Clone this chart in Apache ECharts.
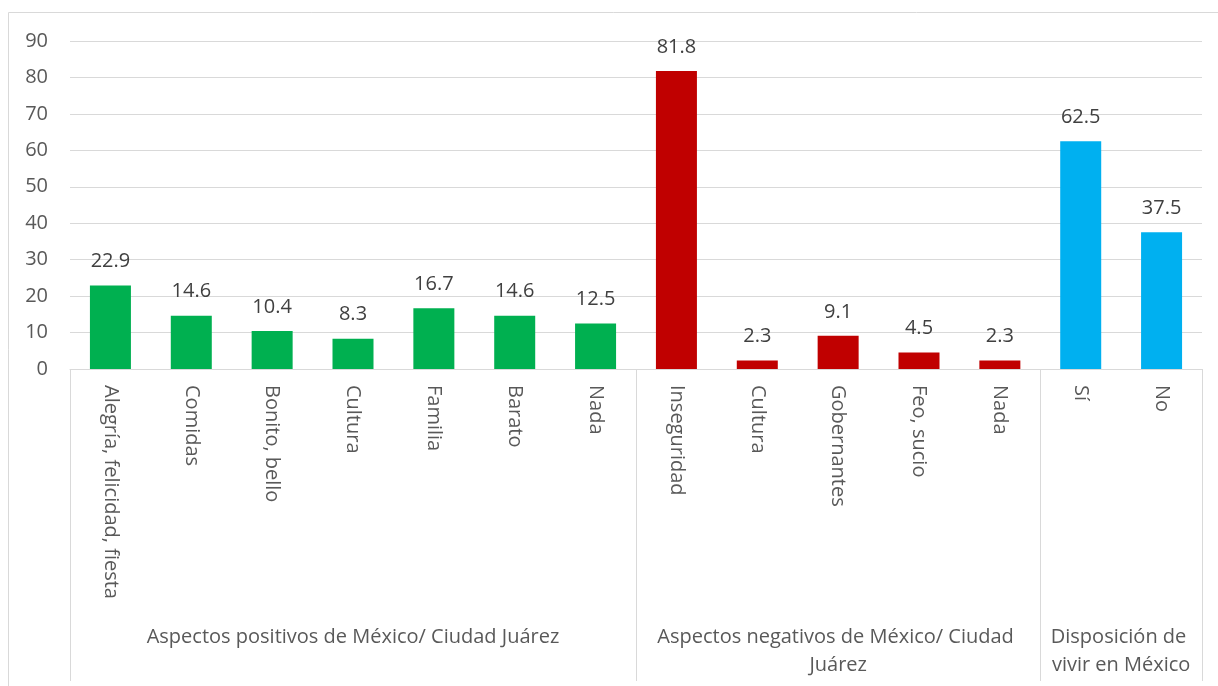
<!DOCTYPE html>
<html>
<head>
<meta charset="utf-8">
<script src="https://cdn.jsdelivr.net/npm/echarts@6/dist/echarts.min.js"></script>
<style>
  html, body { margin: 0; padding: 0; background: #fff; }
  #chart { width: 1218px; height: 686px; }
</style>
</head>
<body>
<div id="chart"></div>
<script>
const categories = [
    'Alegría, felicidad, fiesta', 'Comidas', 'Bonito, bello', 'Cultura', 'Familia', 'Barato', 'Nada',
    'Inseguridad', 'Cultura', 'Gobernantes', 'Feo, sucio', 'Nada',
    'Sí', 'No',
]
const values = [22.9, 14.6, 10.4, 8.3, 16.7, 14.6, 12.5, 81.8, 2.3, 9.1, 4.5, 2.3, 62.5, 37.5]
const groupNames = [
    'Aspectos positivos de México/ Ciudad Juárez',
    'Aspectos negativos de México/ Ciudad Juárez',
    'Disposición de vivir en México',
]
const groupSizes = [7, 5, 2]
const yTicks = [0, 90, 10] // min, max, interval

const groupColors = ['#00B050', '#C00000', '#00B0F0']
const font = '"Open Sans", sans-serif'
const fontSize = 20
const textColor = '#595959'
const lineColor = '#d9d9d9'

// which group each bar is in, and where the groups start/end on the axis
const groupOf = []
const bounds = [-0.5]
groupSizes.forEach((n, g) => {
    for (let i = 0; i < n; i++) groupOf.push(g)
    bounds.push(bounds[bounds.length - 1] + n)
})

const chart = echarts.init(document.getElementById('chart'))

const option = {
    animation: false,
    grid: { left: 70, right: 16, top: 41, bottom: 317 },
    xAxis: [
        {
            type: 'category',
            data: categories,
            axisLine: { lineStyle: { color: lineColor, width: 1 } },
            axisTick: { show: false },
            axisLabel: {
                interval: 0,
                rotate: -90,
                margin: 16,
                color: textColor,
                fontFamily: font,
                fontSize: fontSize,
            },
        },
        {
            // only used to draw the group separators below the axis
            type: 'value',
            min: -0.5,
            max: categories.length - 0.5,
            position: 'bottom',
            axisLine: { show: false },
            splitLine: { show: false },
            axisLabel: { show: false },
            axisTick: {
                show: true,
                customValues: bounds,
                length: 312,
                lineStyle: { color: lineColor, width: 1 },
            },
        },
    ],
    yAxis: {
        type: 'value',
        min: yTicks[0],
        max: yTicks[1],
        interval: yTicks[2],
        axisLine: { show: false },
        axisTick: { show: false },
        splitLine: { lineStyle: { color: lineColor, width: 1 } },
        axisLabel: { margin: 22, color: textColor, fontFamily: font, fontSize: fontSize },
    },
    series: [
        {
            type: 'bar',
            xAxisIndex: 0,
            barWidth: 41,
            data: values,
            itemStyle: {
                color: (p) => groupColors[groupOf[p.dataIndex]],
            },
            label: {
                show: true,
                position: 'top',
                distance: 14,
                color: '#404040',
                fontFamily: font,
                fontSize: fontSize,
                formatter: (p) => p.value.toFixed(1),
            },
        },
    ],
}

chart.setOption(option)

// group titles centred under their own bars
const graphics = [
    {
        type: 'rect',
        shape: { x: 8.5, y: 12.5, width: 1220, height: 700 },
        style: { fill: 'none', stroke: lineColor, lineWidth: 1 },
        silent: true,
    },
]
groupNames.forEach((name, g) => {
    const x0 = chart.convertToPixel({ xAxisIndex: 1 }, bounds[g])
    const x1 = chart.convertToPixel({ xAxisIndex: 1 }, bounds[g + 1])
    graphics.push({
        type: 'text',
        x: (x0 + x1) / 2,
        y: 623,
        style: {
            text: name,
            width: x1 - x0 - 12,
            overflow: 'break',
            align: 'center',
            verticalAlign: 'top',
            lineHeight: 28,
            fill: textColor,
            font: fontSize + 'px ' + font,
        },
        silent: true,
    })
})
chart.setOption({ graphic: graphics })
</script>
</body>
</html>
